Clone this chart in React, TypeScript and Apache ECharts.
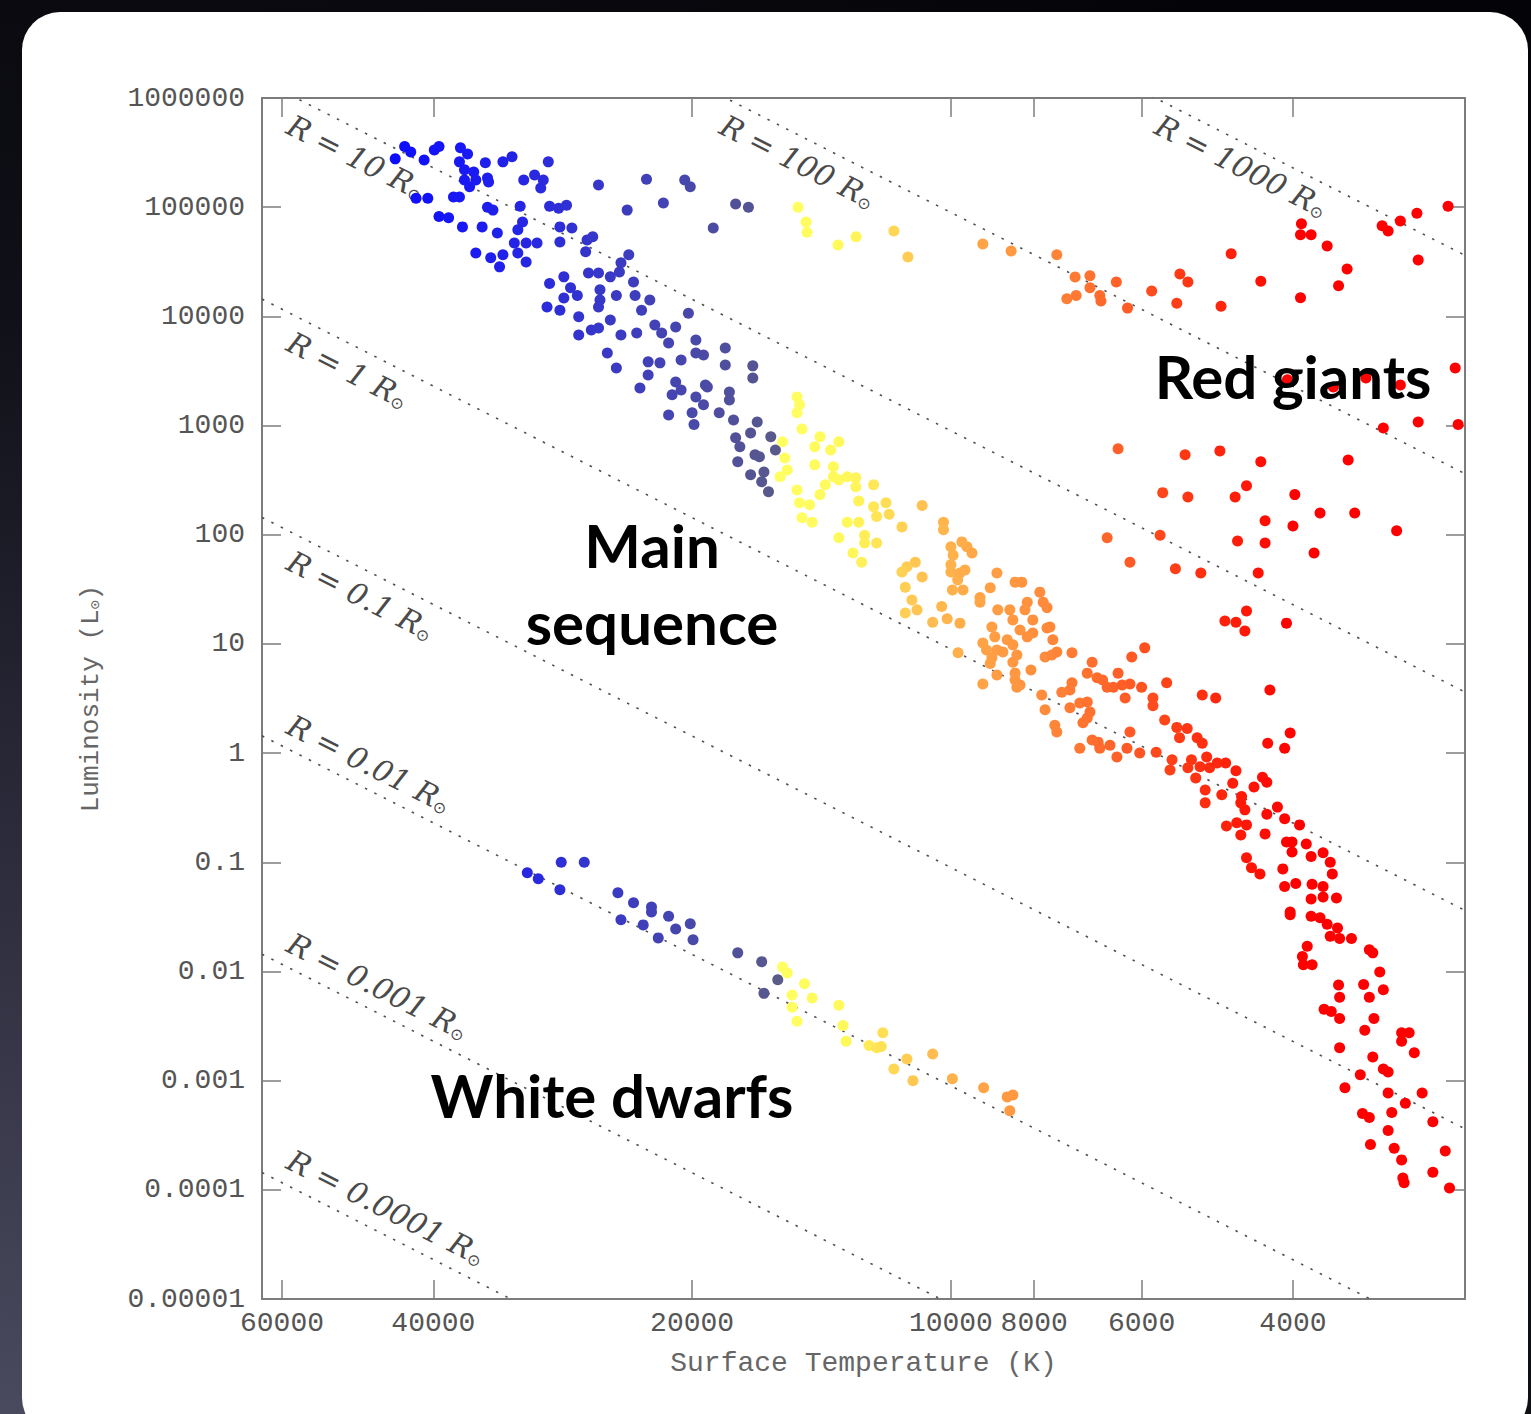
import React, { useEffect, useRef } from "react";
import * as echarts from "echarts";

// ---------- axes ----------
const X_MIN = 2523;
const X_MAX = 63300;
const Y_MIN = 1e-5;
const Y_MAX = 1e6;
const xTickValues = [60000, 40000, 20000, 10000, 8000, 6000, 4000];
const xTickLabels = ["60000", "40000", "20000", "10000", "8000", "6000", "4000"];
const yTickValues = [1e-5, 1e-4, 1e-3, 1e-2, 1e-1, 1, 10, 100, 1000, 1e4, 1e5, 1e6];
const yTickLabels = ["0.00001", "0.0001", "0.001", "0.01", "0.1", "1", "10", "100", "1000", "10000", "100000", "1000000"];

// ---------- constant-radius lines (luminosity at hot / cool edge of plot) ----------
const radiusNames = ["1000", "100", "10", "1", "0.1", "0.01", "0.001", "0.0001"];
const radiusLumHotEdge = [1.44e10, 1.44e8, 1.44e6, 1.44e4, 144, 1.44, 0.0144, 1.44e-4];
const radiusLumCoolEdge = [3.62e4, 362, 3.62, 0.0362, 3.62e-4, 3.62e-6, 3.62e-8, 3.62e-10];

// ---------- stars: [surface temperature K, luminosity Lsun] ----------
const hotStars = [
  [44300, 2.77e5], [43200, 3.6e5], [42500, 3.2e5], [41000, 2.7e5], [39900, 3.34e5], [39400, 3.6e5],
  [37200, 3.5e5], [36500, 3.07e5], [37300, 2.6e5], [36800, 2.2e5], [35900, 2.1e5], [34800, 2.55e5],
  [33200, 2.6e5], [32400, 2.9e5], [29400, 2.6e5], [36800, 1.77e5], [35700, 1.77e5], [34600, 1.85e5],
  [36300, 1.54e5], [37300, 1.24e5], [37900, 1.24e5], [41900, 1.21e5], [40600, 1.21e5], [34500, 1.7e5],
  [34600, 1.0e5], [34100, 9.4e4], [31700, 1.02e5], [31400, 1.77e5], [30500, 1.97e5], [29800, 1.77e5],
  [30000, 1.5e5], [29300, 1.02e5], [28600, 9.8e4], [28000, 1.04e5], [39400, 8.2e4], [38400, 8.0e4],
  [37000, 6.6e4], [35100, 6.6e4], [33700, 5.8e4], [31500, 7.3e4], [31900, 6.2e4], [32200, 4.7e4],
  [31200, 4.7e4], [30300, 4.7e4], [35700, 3.8e4], [34300, 3.44e4], [33200, 3.67e4], [33500, 2.84e4],
  [31900, 3.8e4], [31200, 3.15e4], [28500, 6.6e4], [27600, 6.45e4], [28500, 4.8e4], [26500, 5.0e4],
  [26100, 5.35e4], [26600, 3.9e4], [25700, 1.6e5], [23800, 9.4e4], [22600, 1.8e5], [21600, 1.09e5],
  [20400, 1.77e5], [20100, 1.54e5], [18900, 6.45e4], [17800, 1.07e5], [17200, 1.0e5], [23700, 3.67e4],
  [24200, 3.1e4], [26400, 2.5e4], [25700, 2.5e4], [24900, 2.3e4], [24300, 2.55e4], [23400, 2.06e4],
  [29300, 2.0e4], [28200, 2.3e4], [27700, 1.83e4], [27200, 1.55e4], [28200, 1.47e4], [25600, 1.75e4],
  [25600, 1.41e4], [25700, 1.22e4], [24500, 1.55e4], [23300, 1.55e4], [22400, 1.41e4], [22900, 1.14e4],
  [29500, 1.22e4], [28500, 1.14e4], [27100, 9900], [24900, 9270], [22100, 8340], [21700, 7050],
  [20900, 8000], [20200, 1.07e4], [27100, 6750], [26200, 7510], [25700, 7840], [24200, 6750],
  [23200, 7050], [21300, 5700], [19800, 6080], [19800, 4610], [20600, 3990], [19400, 4420],
  [18300, 5140], [25100, 4610], [24500, 3370], [22500, 3830], [21800, 3750], [18300, 3590],
  [17000, 3520], [22500, 2900], [23000, 2210], [20900, 2510], [20600, 2120], [19300, 2350],
  [17000, 2730], [21100, 1910], [19800, 1830], [19400, 1550], [18100, 2030], [18100, 1715],
  [21300, 1250], [20000, 1310], [19900, 1020], [18600, 1310], [17900, 1125], [16800, 1080],
  [17100, 856], [17800, 772], [16200, 788], [17700, 465], [16900, 540], [16500, 376],
  [16300, 247], [16600, 305], [17100, 354], [16700, 518], [16000, 598], [17600, 640], [19200, 2250],
];

const warmStars = [
  [15100, 1830], [15000, 1550], [15100, 1310], [14900, 930], [15700, 710], [15600, 505], [15800, 340],
  [15500, 392], [14400, 640], [14200, 788], [13800, 598], [13500, 710], [14400, 438], [13700, 420],
  [13700, 340], [13500, 318], [13200, 340], [12900, 332], [12900, 275], [14000, 287], [14200, 233],
  [15100, 257], [15000, 196], [14600, 188], [14900, 143], [14500, 130], [12800, 204], [12300, 287],
  [12300, 180], [11900, 196], [11800, 154], [12200, 147], [11400, 118], [13200, 130], [12800, 130],
  [13500, 94], [12600, 99], [12600, 84], [12200, 84], [13000, 68], [12700, 56],
  [10800, 185], [10200, 130], [10200, 111], [9710, 86], [9580, 77.5], [10000, 77.5], [9450, 68],
  [9940, 65], [11000, 56], [11250, 51], [11400, 45.6], [10800, 41], [11300, 33], [11100, 25.3],
  [10950, 20.5], [11300, 19.2], [10000, 53], [10000, 45.6], [9760, 44.6], [9630, 47.6], [9820, 38.6],
  [9960, 31.2], [9680, 31.2], [10250, 22], [10500, 15.8], [10100, 17], [9760, 15.5], [8840, 44.6],
  [9000, 32.7], [9250, 26.6], [8420, 36.8], [8270, 36.8], [8820, 20.5], [9250, 24.1], [8540, 20.5],
  [8470, 16.6], [7880, 29.8], [7810, 24.1], [7730, 21.5], [8150, 24.1], [8200, 20.5], [8030, 16.6],
  [8960, 14.3], [8890, 11.6], [9180, 10.2], [9090, 8.81], [8840, 8.81], [8700, 8.44], [8600, 10.9],
  [8470, 9.8], [8380, 7.9], [8310, 13.4], [8150, 11.6], [8030, 12.6], [7730, 14], [7670, 14.3],
  [7610, 10.9], [7770, 7.6], [7630, 7.9], [7530, 8.44], [8960, 7.45], [9000, 6.6], [8470, 6.8],
  [8070, 5.78], [8840, 5.2], [9180, 4.3], [8420, 5.4], [8420, 4.68], [8310, 4.2], [8380, 4.0], [9810, 8.3],
];

const coolStars = [
  [7230, 8.3], [6850, 6.8], [6940, 5.4], [6760, 4.9], [6660, 4.68], [7230, 4.4], [7270, 3.79],
  [7430, 3.6], [7840, 3.4], [7770, 2.49], [7570, 1.8], [7530, 1.56], [7270, 2.6], [7080, 2.87],
  [6940, 2.94], [6890, 2.38], [6940, 2.1], [7020, 1.9], [6580, 4.0], [6470, 4.0], [6390, 5.4],
  [6270, 3.2], [6190, 4.3], [6160, 7.6], [5950, 9.2], [6190, 1.56], [7080, 1.11], [6850, 1.32],
  [6740, 1.26], [6710, 1.11], [6530, 1.18], [6410, 0.92], [6240, 1.11], [6030, 1.0], [6320, 4.2],
  [6000, 4.0], [5610, 4.4], [5820, 3.2], [5820, 2.72], [5100, 3.4], [4920, 3.2], [4255, 3.79],
  [5640, 2.01], [5460, 1.72], [5310, 1.68], [4030, 1.53], [4280, 1.23], [4090, 1.11], [5770, 1.02],
  [5530, 0.867], [5420, 1.38], [5170, 1.38], [5100, 1.23], [5040, 0.92], [5250, 0.867], [5130, 0.75],
  [5000, 0.735], [5560, 0.7], [5300, 0.735], [4900, 0.81], [4790, 0.81], [4660, 0.69], [5190, 0.59],
  [5060, 0.46], [5060, 0.35], [4700, 0.53], [4840, 0.415], [4590, 0.4], [4550, 0.302], [4440, 0.49],
  [4340, 0.6], [4290, 0.54], [4170, 0.32], [4290, 0.275], [4090, 0.25], [3930, 0.22], [4780, 0.215],
  [4650, 0.23], [4530, 0.22], [4600, 0.35],
];

const redDwarfs = [
  [4600, 0.178], [4310, 0.182], [4070, 0.153], [4010, 0.153], [4010, 0.124], [3860, 0.147], [4530, 0.11],
  [3810, 0.113], [3690, 0.122], [3620, 0.1], [4470, 0.089], [4370, 0.078], [4110, 0.087], [3600, 0.078],
  [4090, 0.06], [3970, 0.064], [3800, 0.063], [3690, 0.06], [3690, 0.048], [3810, 0.046], [3560, 0.047],
  [4030, 0.035], [4030, 0.033], [3810, 0.032], [3720, 0.031], [3650, 0.027], [3550, 0.025], [3620, 0.021],
  [3530, 0.02], [3420, 0.02], [3260, 0.0158], [3230, 0.0148], [3850, 0.017], [3900, 0.0137], [3890, 0.0115],
  [3800, 0.0115], [3170, 0.0099], [3540, 0.0075], [3530, 0.0058], [3310, 0.0076], [3260, 0.0058],
  [3140, 0.0068], [3680, 0.0045], [3610, 0.0043], [3530, 0.0037], [3220, 0.0037], [3300, 0.0029],
  [3530, 0.002], [2990, 0.00275], [2930, 0.00275], [2990, 0.0023], [2890, 0.0018], [3230, 0.00165],
  [3340, 0.00113], [3140, 0.00128], [3100, 0.0012], [3480, 8.6e-4], [3100, 7.7e-4], [2960, 6.2e-4],
  [2830, 7.7e-4], [3320, 5.0e-4], [3260, 4.6e-4], [3070, 5.1e-4], [2750, 4.2e-4], [3100, 3.5e-4],
  [3250, 2.6e-4], [3050, 2.4e-4], [2660, 2.27e-4], [2990, 1.88e-4], [2750, 1.45e-4], [2980, 1.28e-4],
  [2970, 1.16e-4], [2630, 1.04e-4],
];

const giants = [
  [15060, 1.0e5], [14740, 7.3e4], [14700, 5.9e4], [13530, 4.5e4], [12890, 5.35e4], [11650, 6.05e4],
  [11220, 3.5e4], [9180, 4.6e4], [8510, 3.96e4],
  [7530, 3.67e4], [7170, 2.29e4], [6890, 2.35e4], [6420, 2.06e4], [7330, 1.45e4], [7150, 1.55e4],
  [6890, 1.83e4], [6710, 1.55e4], [6690, 1.38e4], [6230, 1.19e4], [5840, 1.71e4], [5415, 2.44e4],
  [5300, 2.06e4], [5460, 1.32e4], [4850, 1.24e4], [4720, 3.75e4], [4360, 2.1e4], [3920, 1.48e4],
  [3910, 7.05e4], [3920, 5.58e4], [3810, 5.58e4], [3650, 4.42e4], [3460, 2.72e4], [3540, 1.91e4],
  [3150, 6.75e4], [3100, 6.05e4], [3000, 7.48e4], [2870, 8.8e4], [2640, 1.02e5], [2860, 3.29e4],
  [2590, 3370], [2570, 1020], [2860, 1080], [3140, 950], [4060, 2620], [3590, 2250], [3290, 2730],
  [3000, 2350], [6390, 614], [5340, 540], [4865, 586], [4360, 465], [3450, 484], [5670, 243],
  [5300, 222], [4670, 222], [4530, 281], [3980, 233], [3720, 158], [3390, 158], [3030, 109],
  [4310, 134], [4000, 120], [6580, 94], [5710, 99], [4640, 87.6], [4310, 84], [3780, 68], [6190, 56],
  [5480, 48.7], [5120, 44.6], [4390, 44.6], [4530, 20], [4800, 16.2], [4660, 15.8], [4550, 13.1],
  [4070, 15.5],
];

const whiteDwarfs = [
  [31100, 0.08], [30200, 0.0705], [28400, 0.1], [26700, 0.1], [28500, 0.056], [24400, 0.0525],
  [23400, 0.0425], [22300, 0.039], [22300, 0.035], [21300, 0.032], [24200, 0.0297], [22800, 0.0267],
  [20900, 0.0245], [21900, 0.0203], [20100, 0.0273], [19950, 0.0195], [17700, 0.0148], [16600, 0.0123],
  [15900, 0.0084], [16500, 0.0063], [15700, 0.011], [15500, 0.0097], [14800, 0.0077], [15300, 0.0061],
  [14500, 0.0057], [15300, 0.0047], [15100, 0.0035], [13500, 0.0049], [13350, 0.0032], [13240, 0.0023],
  [12000, 0.00275], [12450, 0.0021], [12200, 0.002], [12050, 0.00205], [11250, 0.00158], [11650, 0.00128],
  [10500, 0.00175], [11070, 0.001], [9960, 0.00104], [9160, 8.6e-4], [8600, 7.1e-4], [8470, 7.4e-4],
  [8540, 5.3e-4],
];

// ---------- styling ----------
const colorStops: [number, string][] = [
  [45000, "#0c0cff"],
  [36000, "#1a1af2"],
  [30000, "#2a2ade"],
  [26000, "#3636ca"],
  [22000, "#4242b6"],
  [19000, "#4c4ca4"],
  [16800, "#555592"],
  [15860, "#5b5b88"],
  [15840, "#ffff62"],
  [13000, "#fff75a"],
  [12000, "#ffe055"],
  [11000, "#ffc653"],
  [10000, "#ffb24c"],
  [9000, "#ffa045"],
  [7800, "#ff8c3c"],
  [7000, "#ff7430"],
  [6200, "#ff5a25"],
  [5400, "#ff3a15"],
  [4600, "#ff1a08"],
  [4000, "#ff0000"],
  [2000, "#ff0000"],
];

function hexToRgb(h: string) {
  const n = parseInt(h.slice(1), 16);
  return [(n >> 16) & 255, (n >> 8) & 255, n & 255];
}
function rampColor(t: number): string {
  if (t >= colorStops[0][0]) return colorStops[0][1];
  for (let i = 0; i < colorStops.length - 1; i++) {
    const [t0, c0] = colorStops[i];
    const [t1, c1] = colorStops[i + 1];
    if (t <= t0 && t >= t1) {
      const f = (Math.log10(t0) - Math.log10(t)) / (Math.log10(t0) - Math.log10(t1));
      const a = hexToRgb(c0);
      const b = hexToRgb(c1);
      const m = a.map((v, k) => Math.round(v + (b[k] - v) * f));
      return `rgb(${m[0]},${m[1]},${m[2]})`;
    }
  }
  return colorStops[colorStops.length - 1][1];
}

const AXIS_COLOR = "#7c7c7c";
const LABEL_COLOR = "#555555";
const MONO = "'Liberation Mono', 'DejaVu Sans Mono', monospace";

const radiusLabelPos = [
  { x: 1164, y: 110 },
  { x: 729, y: 110 },
  { x: 296, y: 110 },
  { x: 296, y: 327 },
  { x: 296, y: 546 },
  { x: 296, y: 710 },
  { x: 296, y: 928 },
  { x: 296, y: 1145 },
];

function buildOption() {
  const axisLine = { show: true, lineStyle: { color: AXIS_COLOR, width: 2 } };
  const tickStyle = { color: AXIS_COLOR, width: 1.5 };
  const xBase = {
    type: "log",
    logBase: 10,
    inverse: true,
    min: X_MIN,
    max: X_MAX,
    axisLine,
    splitLine: { show: false },
    axisTick: { show: true, inside: true, length: 19, customValues: xTickValues, lineStyle: tickStyle },
  };
  const yBase = {
    type: "log",
    logBase: 10,
    min: Y_MIN,
    max: Y_MAX,
    axisLine,
    splitLine: { show: false },
    axisTick: { show: true, inside: true, length: 19, customValues: yTickValues, lineStyle: tickStyle },
  };

  const starSeries = (name: string, data: number[][]) => ({
    name,
    type: "scatter",
    data,
    symbol: "circle",
    symbolSize: 11,
    silent: true,
    z: 3,
    itemStyle: { color: (p: any) => rampColor(p.value[0]), opacity: 1 },
  });

  const radiusSeries = radiusNames.map((r, i) => ({
    name: `R = ${r}`,
    type: "line",
    data: [
      [X_MAX, radiusLumHotEdge[i]],
      [X_MIN, radiusLumCoolEdge[i]],
    ],
    showSymbol: false,
    symbol: "none",
    silent: true,
    clip: true,
    z: 2,
    lineStyle: { color: "#505050", width: 1.6, type: [2.5, 8] },
  }));

  const radiusTexts = radiusNames.map((r, i) => ({
    type: "text",
    x: radiusLabelPos[i].x,
    y: radiusLabelPos[i].y,
    rotation: -0.47,
    z: 1,
    silent: true,
    style: {
      text: `R = ${r} R{s|⊙}`,
      fontFamily: "'DejaVu Serif', serif",
      fontStyle: "italic",
      fontSize: 30,
      fill: "#4a4a4a",
      textAlign: "left",
      textVerticalAlign: "top",
      align: "left",
      verticalAlign: "top",
      rich: {
        s: { fontSize: 16, fontStyle: "normal", fontFamily: "'DejaVu Sans', sans-serif", fill: "#4a4a4a", verticalAlign: "bottom" },
      },
    },
  }));

  const bigText = (text: string, x: number, y: number, align = "center") => ({
    type: "text",
    x,
    y,
    z: 100,
    silent: true,
    style: {
      text,
      fontFamily: "Lato, 'Open Sans', sans-serif",
      fontWeight: "bold",
      fontSize: 60,
      fill: "#000000",
      textAlign: align,
      textVerticalAlign: "middle",
      align,
      verticalAlign: "middle",
    },
  });

  return {
    animation: false,
    backgroundColor: "transparent",
    grid: { left: 262, top: 98, width: 1203, height: 1201, containLabel: false, outerBoundsMode: "none" },
    xAxis: [
      {
        ...xBase,
        position: "bottom",
        name: "Surface Temperature (K)",
        nameLocation: "middle",
        nameGap: 50,
        nameTextStyle: { fontFamily: MONO, fontSize: 28, color: "#666666", verticalAlign: "top" },
        axisLabel: {
          show: true,
          customValues: xTickValues,
          margin: 10,
          fontFamily: MONO,
          fontSize: 28,
          color: LABEL_COLOR,
          formatter: (v: number) => {
            const k = xTickValues.findIndex((t) => Math.abs(t - v) < 1);
            return k >= 0 ? xTickLabels[k] : String(Math.round(v));
          },
        },
      },
      { ...xBase, position: "top", axisLabel: { show: false } },
    ],
    yAxis: [
      {
        ...yBase,
        position: "left",
        name: "Luminosity (L{s|⊙})",
        nameLocation: "middle",
        nameGap: 158,
        nameTextStyle: {
          fontFamily: MONO,
          fontSize: 26,
          color: "#666666",
          rich: { s: { fontSize: 15, color: "#666666", verticalAlign: "bottom" } },
        },
        axisLabel: {
          show: true,
          customValues: yTickValues,
          margin: 17,
          fontFamily: MONO,
          fontSize: 28,
          color: LABEL_COLOR,
          formatter: (v: number) => yTickLabels[Math.round(Math.log10(v)) + 5] ?? String(v),
        },
      },
      { ...yBase, position: "right", axisLabel: { show: false } },
    ],
    series: [
      ...radiusSeries,
      starSeries("Hot stars", hotStars),
      starSeries("Warm main sequence", warmStars),
      starSeries("Cool main sequence", coolStars),
      starSeries("Red dwarfs", redDwarfs),
      starSeries("Giants", giants),
      starSeries("White dwarfs", whiteDwarfs),
    ],
    graphic: {
      elements: [
        ...radiusTexts,
        bigText("Red giants", 1293, 376),
        bigText("Main", 652, 545),
        bigText("sequence", 652, 622),
        bigText("White dwarfs", 612, 1095),
      ],
    },
  };
}

export default function App() {
  const ref = useRef<HTMLDivElement>(null);
  useEffect(() => {
    if (!ref.current) return;
    const chart = echarts.init(ref.current, null, { renderer: "svg" });
    chart.setOption(buildOption() as any);
    return () => chart.dispose();
  }, []);
  return (
    <div
      style={{
        position: "absolute",
        left: 0,
        top: 0,
        width: 1531,
        height: 1414,
        overflow: "hidden",
        background: "radial-gradient(ellipse 140% 120% at 0% 100%, #4a4a5e 0%, #2a2a3a 35%, #101018 65%, #040408 100%)",
      }}
    >
      <div
        style={{
          position: "absolute",
          left: 22,
          top: 12,
          width: 1506,
          height: 1424,
          background: "#ffffff",
          borderRadius: 38,
        }}
      />
      <div ref={ref} style={{ position: "absolute", left: 0, top: 0, width: 1531, height: 1414 }} />
    </div>
  );
}
